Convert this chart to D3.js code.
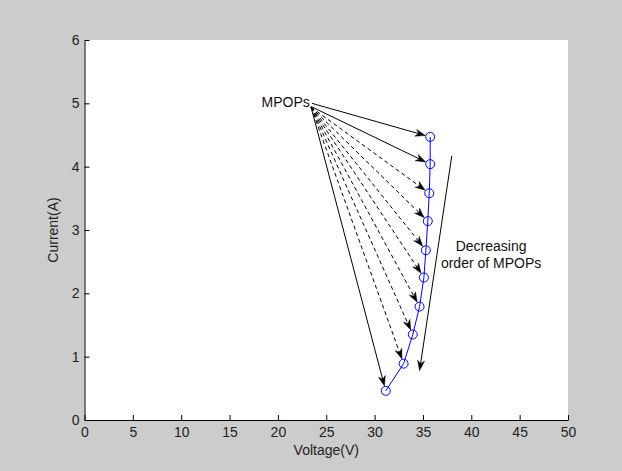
<!DOCTYPE html>
<html>
<head>
<meta charset="utf-8">
<script src="https://cdn.jsdelivr.net/npm/d3@7"></script>
<style>
  html, body { margin: 0; padding: 0; background: #cccccc; }
  svg { display: block; }
  text { font-family: "Liberation Sans", Arial, sans-serif; }
</style>
</head>
<body>
<svg id="chart" width="622" height="471"></svg>
<script>
// ---- data ----
const voltage = [35.75, 35.75, 35.65, 35.5, 35.3, 35.1, 34.65, 33.95, 33.0, 31.15];
const current = [4.47, 4.04, 3.58, 3.14, 2.68, 2.25, 1.79, 1.35, 0.89, 0.46];
const xTicks = [0, 5, 10, 15, 20, 25, 30, 35, 40, 45, 50];
const yTicks = [0, 1, 2, 3, 4, 5, 6];
// arrow start points (data coords) and dash style per MPOP arrow
const arrowStartV = [23.53, 23.43, 23.43, 23.43, 23.43, 23.43, 23.43, 23.43, 23.43, 23.43];
const arrowStartI = [5.00, 4.95, 4.94, 4.94, 4.94, 4.94, 4.94, 4.94, 4.94, 4.94];
const arrowDashed = [false, false, true, true, true, true, true, true, true, false];
// "decreasing order" arrow (data coords)
const decArrowV = [37.98, 34.65];
const decArrowI = [4.17, 0.78];
const labelMPOP = { text: "MPOPs", v: 23.3, i: 4.95 };
const labelDec = ["Decreasing", "order of MPOPs"];
const labelDecPos = { v: 42.05, i: 2.67 };

// ---- layout ----
const svg = d3.select("#chart");
const W = 622, H = 471;
const x = d3.scaleLinear().domain([0, 50]).range([84.5, 568]);
const y = d3.scaleLinear().domain([0, 6]).range([420, 40]);

svg.append("rect").attr("width", W).attr("height", H).attr("fill", "#cccccc");
svg.append("rect")
  .attr("x", x(0)).attr("y", y(6))
  .attr("width", x(50) - x(0)).attr("height", y(0) - y(6))
  .attr("fill", "#ffffff");

// axes
const fmt = d3.format("d");
const xAxis = d3.axisBottom(x).tickValues(xTicks).tickFormat(fmt).tickSizeInner(-5).tickSizeOuter(0).tickPadding(7);
const yAxis = d3.axisLeft(y).tickValues(yTicks).tickFormat(fmt).tickSizeInner(-5).tickSizeOuter(0).tickPadding(5);
const gx = svg.append("g").attr("transform", `translate(0,${y(0)})`).call(xAxis);
const gy = svg.append("g").attr("transform", `translate(${x(0)},0)`).call(yAxis);
[gx, gy].forEach(g => {
  g.selectAll("path.domain").attr("stroke", "#000").attr("stroke-width", 1);
  g.selectAll(".tick line").attr("stroke", "#000");
  g.selectAll(".tick text").attr("fill", "#222").style("font-size", "14px")
    .style("font-family", '"Liberation Sans", Arial, sans-serif');
});

svg.append("text").attr("x", (x(0) + x(50)) / 2).attr("y", 455)
  .attr("text-anchor", "middle").attr("fill", "#222").style("font-size", "14px")
  .text("Voltage(V)");
svg.append("text")
  .attr("transform", `translate(58,${(y(0) + y(6)) / 2}) rotate(-90)`)
  .attr("text-anchor", "middle").attr("fill", "#222").style("font-size", "14px")
  .text("Current(A)");

// arrowhead helper
function arrowHead(g, x1, y1, x2, y2) {
  const dx = x2 - x1, dy = y2 - y1, L = Math.hypot(dx, dy);
  const ux = dx / L, uy = dy / L, px = -uy, py = ux;
  const len = 10, half = 3.5, notch = 7;
  const bx = x2 - ux * len, by = y2 - uy * len;
  const nx = x2 - ux * notch, ny = y2 - uy * notch;
  g.append("path")
    .attr("d", `M${x2},${y2}L${bx + px * half},${by + py * half}L${nx},${ny}L${bx - px * half},${by - py * half}Z`)
    .attr("fill", "#000").attr("stroke", "#000").attr("stroke-width", 0.5);
}

const arrows = svg.append("g");
voltage.forEach((v, k) => {
  const sx = x(arrowStartV[k]), sy = y(arrowStartI[k]);
  const cx = x(v), cy = y(current[k]);
  const dx = cx - sx, dy = cy - sy, L = Math.hypot(dx, dy);
  const ex = cx - dx / L * 5, ey = cy - dy / L * 5;
  arrows.append("line")
    .attr("x1", sx).attr("y1", sy)
    .attr("x2", ex - dx / L * 7).attr("y2", ey - dy / L * 7)
    .attr("stroke", "#000").attr("stroke-width", 1)
    .attr("stroke-dasharray", arrowDashed[k] ? "4,3" : null);
  arrowHead(arrows, sx, sy, ex, ey);
});

// decreasing-order arrow
{
  const sx = x(decArrowV[0]), sy = y(decArrowI[0]);
  const ex = x(decArrowV[1]), ey = y(decArrowI[1]);
  const dx = ex - sx, dy = ey - sy, L = Math.hypot(dx, dy);
  arrows.append("line").attr("x1", sx).attr("y1", sy)
    .attr("x2", ex - dx / L * 7).attr("y2", ey - dy / L * 7)
    .attr("stroke", "#000").attr("stroke-width", 1);
  arrowHead(arrows, sx, sy, ex, ey);
}

// blue MPOP line + circles
const pts = voltage.map((v, k) => [v, current[k]]);
svg.append("path")
  .attr("d", d3.line().x(d => x(d[0])).y(d => y(d[1]))(pts))
  .attr("fill", "none").attr("stroke", "#0000ff").attr("stroke-width", 1);
svg.append("g").selectAll("circle").data(pts).join("circle")
  .attr("cx", d => x(d[0])).attr("cy", d => y(d[1])).attr("r", 4.5)
  .attr("fill", "none").attr("stroke", "#0000ff").attr("stroke-width", 1);

// annotation texts
svg.append("text").attr("x", x(labelMPOP.v)).attr("y", y(labelMPOP.i))
  .attr("text-anchor", "end").attr("fill", "#111").style("font-size", "14px")
  .text(labelMPOP.text);
const dec = svg.append("text").attr("text-anchor", "middle").attr("fill", "#111").style("font-size", "14px");
labelDec.forEach((t, k) => {
  dec.append("tspan").attr("x", x(labelDecPos.v)).attr("y", y(labelDecPos.i) + k * 17).text(t);
});
</script>
</body>
</html>
